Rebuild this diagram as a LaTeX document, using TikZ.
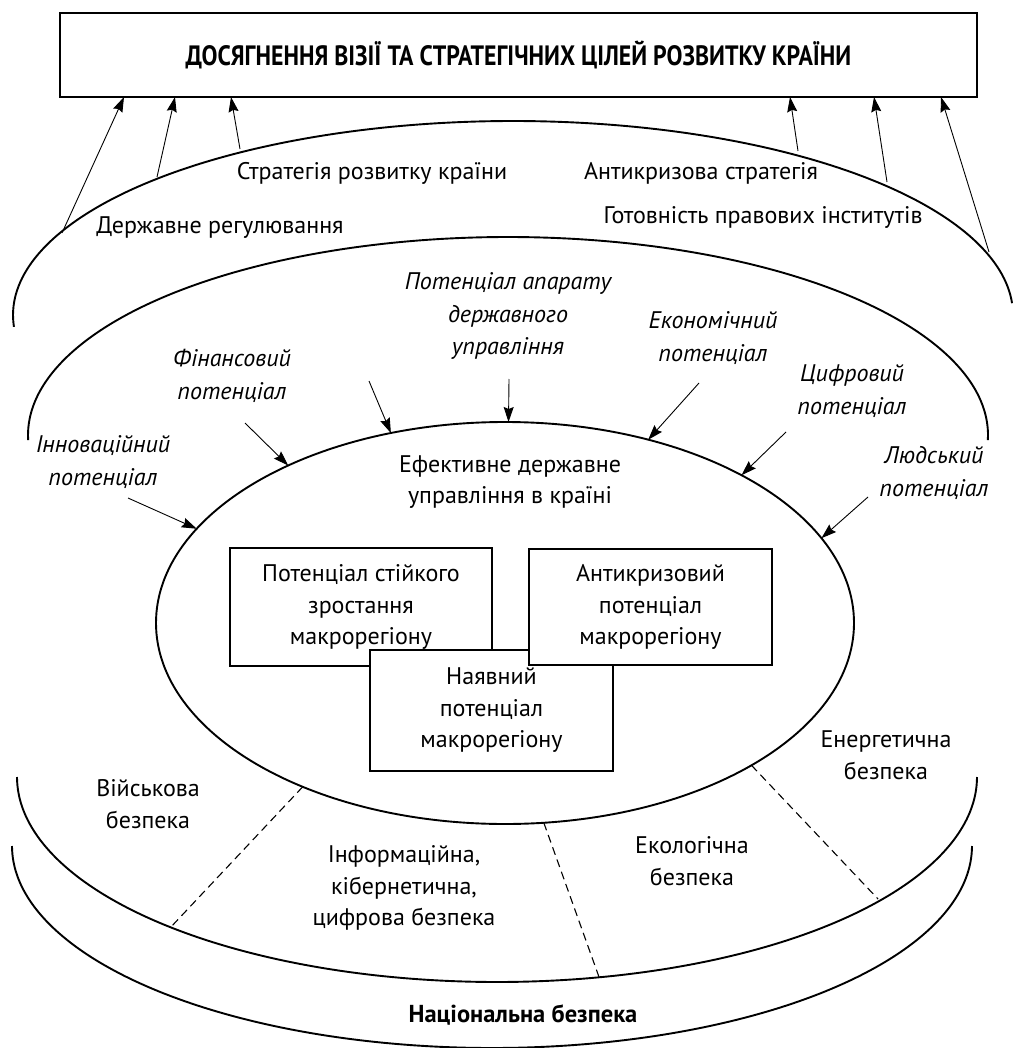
\documentclass[tikz,border=0pt]{standalone}
\usepackage{fontspec}
\setmainfont{PT Sans}
\newfontfamily\titlefont{PT Sans}[FakeStretch=0.85]
\usetikzlibrary{arrows.meta,shapes.geometric,calc}
\begin{document}
\begin{tikzpicture}[x=1pt,y=-1pt,
  lbl/.style={font=\fontsize{24}{31.5}\selectfont, align=center, inner sep=0pt},
  ital/.style={font=\fontsize{24}{32.5}\selectfont\itshape, align=center, inner sep=0pt},
  potbox/.style={draw, line width=1.8pt, fill=white, align=center, inner sep=0pt,
    font=\fontsize{24}{31.5}\selectfont},
  arr/.style={-{Stealth[length=15pt,width=10pt,inset=2pt]}, line width=0.9pt},
  bigarc/.style={line width=1.9pt},
  sepline/.style={dash pattern=on 8pt off 5pt, line width=1.1pt}]
\useasboundingbox (0,0) rectangle (1014,1048);

% goal box
\node[draw, line width=1.8pt, minimum width=917pt, minimum height=84pt, inner sep=0pt,
  font=\titlefont\bfseries\fontsize{28}{30}\selectfont] (goal) at (518.5,55)
  {ДОСЯГНЕННЯ ВІЗІЇ ТА СТРАТЕГІЧНИХ ЦІЛЕЙ РОЗВИТКУ КРАЇНИ};

% arcs
\draw[bigarc] plot[domain=183.5:3.5, samples=150, smooth] ({513+500*cos(\x)}, {315-194*sin(\x)});
\draw[bigarc] plot[domain=181.5:-1.5, samples=150, smooth] ({508+480*cos(\x)}, {435-198*sin(\x)});
\draw[bigarc] plot[domain=180:360, samples=150, smooth] ({497+480*cos(\x)}, {777-205*sin(\x)});
\draw[bigarc] plot[domain=180:360, samples=150, smooth] ({492+480*cos(\x)}, {846-202*sin(\x)});

% inner ellipse
\node[draw, ellipse, line width=1.9pt, minimum width=698pt, minimum height=402pt,
  inner sep=0pt, outer sep=0pt] (eff) at (505,623) {};

% top arrow coordinates
\coordinate (a1) at (62,233);  \coordinate (g1) at (124,97);
\coordinate (a2) at (157,177); \coordinate (g2) at (175,97);
\coordinate (a3) at (240,149); \coordinate (g3) at (231,97);
\coordinate (a4) at (798,151); \coordinate (g4) at (790,97);
\coordinate (a5) at (887,182); \coordinate (g5) at (874,97);
\coordinate (a6) at (989,252); \coordinate (g6) at (941,97);
\foreach \i in {1,...,6} \draw[arr] (a\i) -- (g\i);

% inner arrows
\coordinate (i1) at (128,498);
\coordinate (i2) at (245,423);
\coordinate (i3) at (369,381);
\coordinate (i4) at (509,379);
\coordinate (i5) at (699,383);
\coordinate (i6) at (786,432);
\coordinate (i7) at (868,497);
\draw[arr] (i1) -- (eff.163.6);
\draw[arr] (i2) -- (eff.144.2);
\draw[arr] (i3) -- (eff.121.6);
\draw[arr] (i4) -- (eff.89);
\draw[arr] (i5) -- (eff.52.1);
\draw[arr] (i6) -- (eff.32.4);
\draw[arr] (i7) -- (eff.15.5);

% dashed separators
\coordinate (d1) at (170,928);
\coordinate (d2) at (599,977);
\coordinate (d3) at (878,899);
\draw[sepline] (eff.219.4) -- (d1);
\draw[sepline] (eff.281.9) -- (d2);
\draw[sepline] (eff.330.8) -- (d3);

% labels
\node[lbl] (strat) at (372,173) {Стратегія розвитку країни};
\node[lbl] (anti) at (701,173) {Антикризова стратегія};
\node[lbl] (reg) at (220,228) {Державне регулювання};
\node[lbl] (legal) at (763,217) {Готовність правових інститутів};
\node[ital] (apar) at (508,316) {Потенціал апарату\\державного\\управління};
\node[ital] (fin) at (232,376) {Фінансовий\\потенціал};
\node[ital] (inn) at (103,462) {Інноваційний\\потенціал};
\node[ital] (econ) at (713,338) {Економічний\\потенціал};
\node[ital] (dig) at (852,391) {Цифровий\\потенціал};
\node[ital] (hum) at (934,473) {Людський\\потенціал};
\node[lbl] (efft) at (510,482) {Ефективне державне\\управління в країні};

% boxes
\node[potbox, minimum width=262pt, minimum height=118pt] (b1) at (361,607)
  {Потенціал стійкого\\зростання\\макрорегіону};
\node[potbox, minimum width=243pt, minimum height=121pt] (b3) at (491.5,710.5)
  {Наявний\\потенціал\\макрорегіону};
\node[potbox, minimum width=243pt, minimum height=116pt] (b2) at (650.5,607)
  {Антикризовий\\потенціал\\макрорегіону};

% security labels
\node[lbl] (mil) at (148,804) {Військова\\безпека};
\node[lbl] (info) at (404,888) {Інформаційна,\\кібернетична,\\цифрова безпека};
\node[lbl] (eco) at (692,861) {Екологічна\\безпека};
\node[lbl] (ener) at (886,755) {Енергетична\\безпека};
\node[lbl, font=\fontsize{24.5}{30}\selectfont\bfseries] (nat) at (523,1015) {Національна безпека};
\end{tikzpicture}
\end{document}
